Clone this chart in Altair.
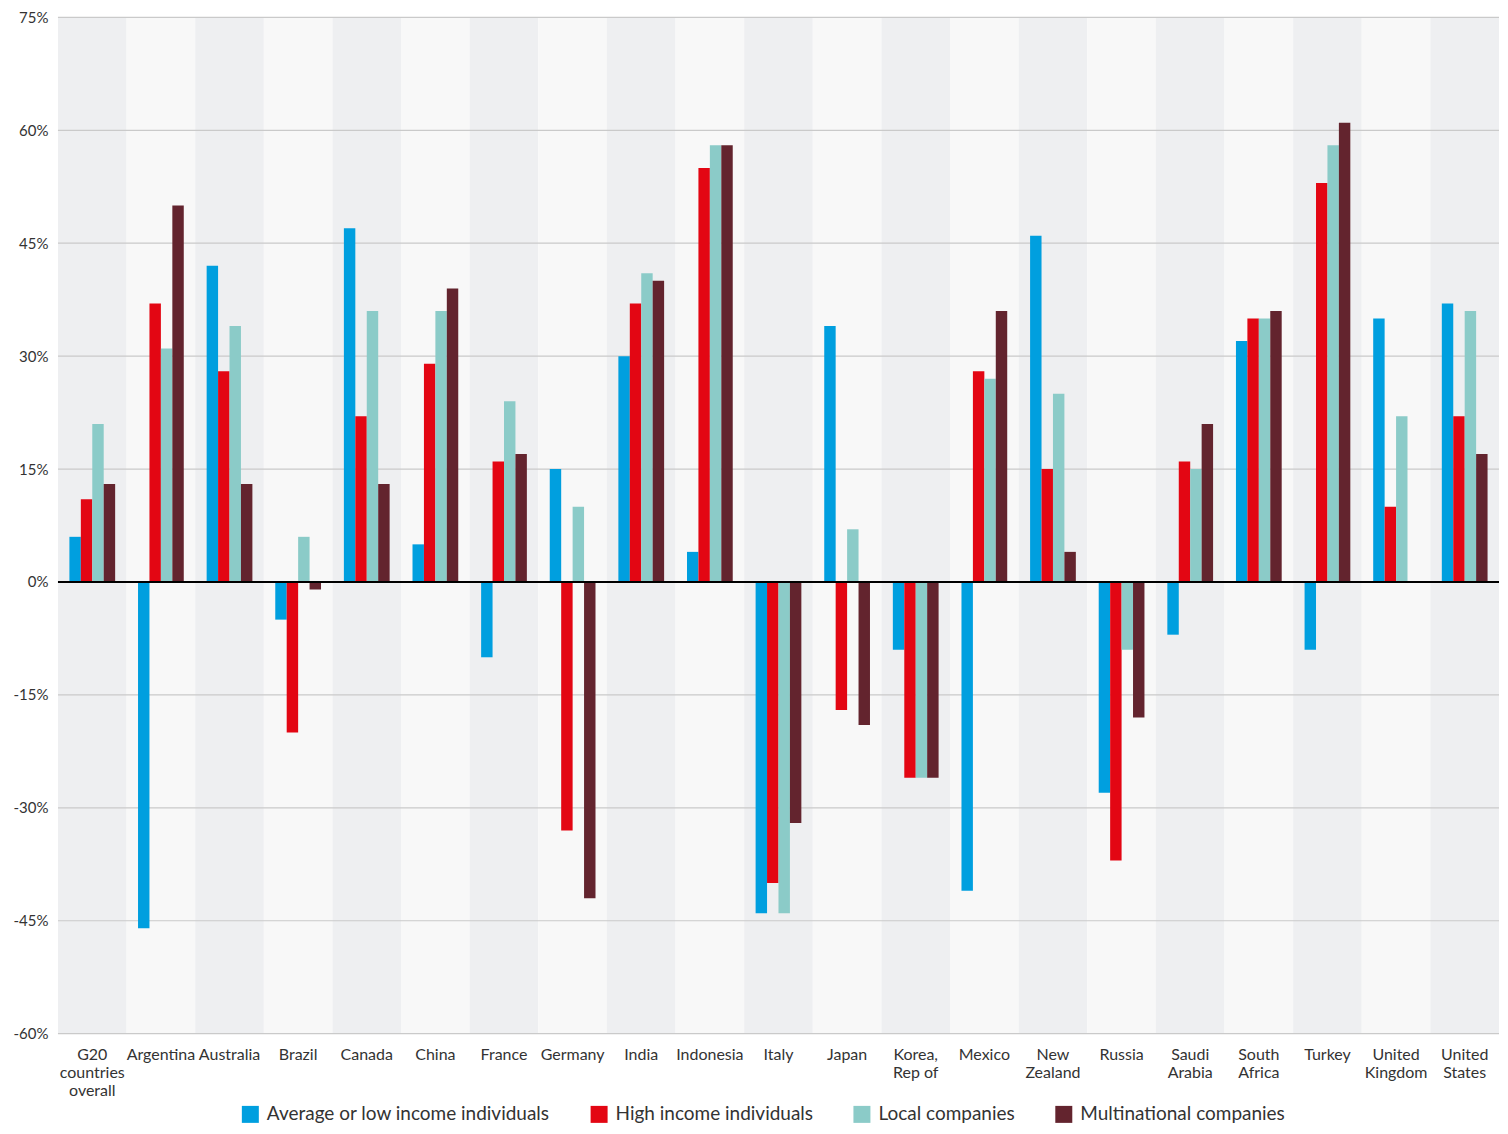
import altair as alt
import pandas as pd

countries = ["G20\ncountries\noverall", "Argentina", "Australia", "Brazil", "Canada", "China",
             "France", "Germany", "India", "Indonesia", "Italy", "Japan", "Korea,\nRep of",
             "Mexico", "New\nZealand", "Russia", "Saudi\nArabia", "South\nAfrica", "Turkey",
             "United\nKingdom", "United\nStates"]

series_names = ["Average or low income individuals", "High income individuals",
                "Local companies", "Multinational companies"]

avg_low = [6, -46, 42, -5, 47, 5, -10, 15, 30, 4, -44, 34, -9, -41, 46, -28, -7, 32, -9, 35, 37]
high_inc = [11, 37, 28, -20, 22, 29, 16, -33, 37, 55, -40, -17, -26, 28, 15, -37, 16, 35, 53, 10, 22]
local_co = [21, 31, 34, 6, 36, 36, 24, 10, 41, 58, -44, 7, -26, 27, 25, -9, 15, 35, 58, 22, 36]
multi_co = [13, 50, 13, -1, 13, 39, 17, -42, 40, 58, -32, -19, -26, 36, 4, -18, 21, 36, 61, None, 17]

colors = ["#009FDF", "#E30613", "#8BCBC8", "#63242E"]
band_shades = ["#EEEFF1", "#F8F8F8"]
y_ticks = [-60, -45, -30, -15, 0, 15, 30, 45, 60, 75]

rows = []
for name, vals in zip(series_names, [avg_low, high_inc, local_co, multi_co]):
    for c, v in zip(countries, vals):
        if v is not None:
            rows.append({"country": c, "series": name, "value": v})
df = pd.DataFrame(rows)

bg_df = pd.DataFrame({"country": countries,
                      "shade": [band_shades[i % 2] for i in range(len(countries))]})
grid_df = pd.DataFrame({"tick": [t for t in y_ticks if t != 0]})
zero_df = pd.DataFrame({"tick": [0]})

W, H = 1442, 1017

xaxis = alt.Axis(title=None, labelAngle=0, domain=False, ticks=False, labelPadding=13,
                 labelFontSize=16, labelColor="#333333", labelFont="Lato",
                 labelLineHeight=18, labelExpr="split(datum.label, '\\n')", grid=False)
yaxis = alt.Axis(title=None, values=y_ticks, domain=False, ticks=False, grid=False,
                 labelFontSize=15, labelColor="#333333", labelFont="Lato", labelPadding=10,
                 labelExpr="datum.value + '%'")
xscale = alt.Scale(domain=countries, paddingInner=0, paddingOuter=0)
yscale = alt.Scale(domain=[-60, 75], nice=False, zero=False)

bg = alt.Chart(bg_df).mark_rect().encode(
    x=alt.X("country:N", sort=countries, scale=xscale, axis=xaxis),
    y=alt.value(0), y2=alt.value(H),
    fill=alt.Fill("shade:N", scale=None),
)

grid = alt.Chart(grid_df).mark_rule(color="#CACACA", strokeWidth=1.2).encode(
    y=alt.Y("tick:Q", scale=yscale, axis=yaxis)
)

bars = alt.Chart(df).mark_bar().encode(
    x=alt.X("country:N", sort=countries, scale=xscale, axis=xaxis),
    xOffset=alt.XOffset("series:N", sort=series_names,
                        scale=alt.Scale(domain=series_names, paddingOuter=1, paddingInner=0)),
    y=alt.Y("value:Q", scale=yscale, axis=yaxis, stack=None),
    color=alt.Color("series:N", sort=series_names,
                    scale=alt.Scale(domain=series_names, range=colors),
                    legend=alt.Legend(title=None, orient="none", direction="horizontal",
                                      legendX=183, legendY=1088, padding=0,
                                      symbolType="square", symbolSize=289, symbolStrokeWidth=0,
                                      labelFontSize=19, labelFont="Lato", labelColor="#333333",
                                      labelLimit=0, columnPadding=39, symbolOffset=0,
                                      labelOffset=7)),
)

zero = alt.Chart(zero_df).mark_rule(color="#000000", strokeWidth=2).encode(
    y=alt.Y("tick:Q", scale=yscale, axis=yaxis)
)

chart = alt.layer(bg, grid, bars, zero).resolve_scale(fill="independent").properties(
    width=W, height=H,
    padding={"left": 5, "top": 2, "right": 0, "bottom": 0},
    background="#FFFFFF",
).configure_view(stroke=None)

chart.save("out.html", embed_options={"renderer": "svg", "actions": False})
